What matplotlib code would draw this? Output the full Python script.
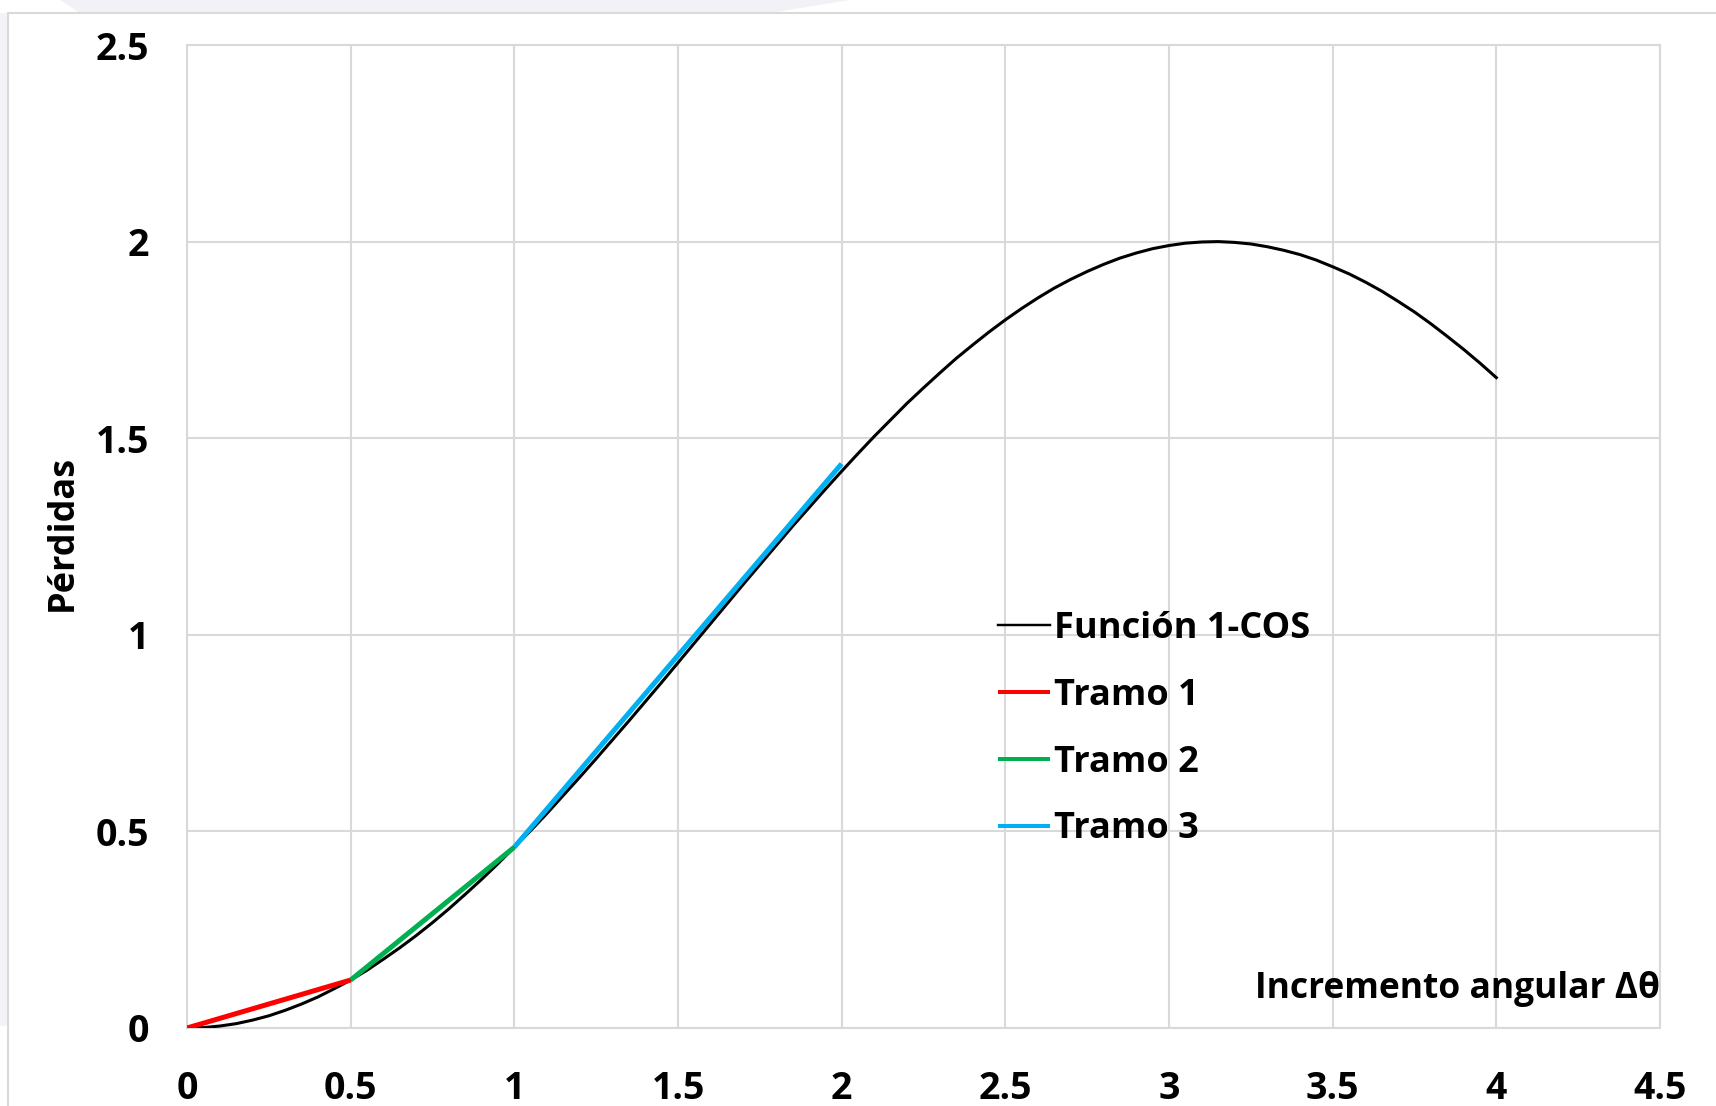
import matplotlib
matplotlib.use("Agg")
import matplotlib.pyplot as plt
from matplotlib.patches import Rectangle, Polygon

# Loss curve 1 - cos(Δθ), sampled every 0.05 rad
theta = [0.00, 0.05, 0.10, 0.15, 0.20, 0.25, 0.30, 0.35, 0.40, 0.45,
         0.50, 0.55, 0.60, 0.65, 0.70, 0.75, 0.80, 0.85, 0.90, 0.95,
         1.00, 1.05, 1.10, 1.15, 1.20, 1.25, 1.30, 1.35, 1.40, 1.45,
         1.50, 1.55, 1.60, 1.65, 1.70, 1.75, 1.80, 1.85, 1.90, 1.95,
         2.00, 2.05, 2.10, 2.15, 2.20, 2.25, 2.30, 2.35, 2.40, 2.45,
         2.50, 2.55, 2.60, 2.65, 2.70, 2.75, 2.80, 2.85, 2.90, 2.95,
         3.00, 3.05, 3.10, 3.15, 3.20, 3.25, 3.30, 3.35, 3.40, 3.45,
         3.50, 3.55, 3.60, 3.65, 3.70, 3.75, 3.80, 3.85, 3.90, 3.95, 4.00]
perdidas = [0.000, 0.001, 0.005, 0.011, 0.020, 0.031, 0.045, 0.061, 0.079, 0.100,
            0.122, 0.147, 0.175, 0.204, 0.235, 0.268, 0.303, 0.340, 0.378, 0.418,
            0.460, 0.502, 0.546, 0.592, 0.638, 0.685, 0.733, 0.781, 0.830, 0.879,
            0.929, 0.979, 1.029, 1.079, 1.129, 1.178, 1.227, 1.276, 1.323, 1.370,
            1.416, 1.461, 1.505, 1.547, 1.589, 1.628, 1.666, 1.703, 1.737, 1.770,
            1.801, 1.830, 1.857, 1.882, 1.904, 1.924, 1.942, 1.958, 1.971, 1.982,
            1.990, 1.996, 1.999, 2.000, 1.998, 1.994, 1.987, 1.978, 1.967, 1.953,
            1.936, 1.918, 1.897, 1.874, 1.848, 1.821, 1.791, 1.759, 1.726, 1.691, 1.654]

# Linear segments
tramo1_x = [0.0, 0.5]
tramo1_y = [0.000, 0.122]
tramo2_x = [0.5, 1.0]
tramo2_y = [0.122, 0.460]
tramo3_x = [1.0, 2.0]
tramo3_y = [0.460, 1.435]

x_ticks = [0, 0.5, 1, 1.5, 2, 2.5, 3, 3.5, 4, 4.5]
x_tick_labels = ["0", "0.5", "1", "1.5", "2", "2.5", "3", "3.5", "4", "4.5"]
y_ticks = [0, 0.5, 1, 1.5, 2, 2.5]
y_tick_labels = ["0", "0.5", "1", "1.5", "2", "2.5"]

FONT = ["Open Sans", "DejaVu Sans"]
plt.rcParams["font.family"] = FONT
plt.rcParams["font.weight"] = "bold"

W, H = 1716, 1106
fig = plt.figure(figsize=(W / 100, H / 100), dpi=100)
fig.patch.set_facecolor("white")

# faint decorative background band and outer chart frame
fig.add_artist(Polygon([(60 / W, 1), (850 / W, 1), (770 / W, 1 - 13 / H), (80 / W, 1 - 13 / H)],
                       closed=True, transform=fig.transFigure, facecolor="#f1f1f6",
                       edgecolor="none", zorder=0))
fig.add_artist(Rectangle((0, 80 / H), 8 / W, 1 - 80 / H - 13 / H, transform=fig.transFigure,
                         facecolor="#f4f4f8", edgecolor="none", zorder=0))
fig.add_artist(Rectangle((8 / W, -0.05), 1.0, 1.05 - 13 / H, transform=fig.transFigure,
                         facecolor="white", edgecolor="#d9d9d9", linewidth=1.5, zorder=0))

left, right, top, bottom = 187, 1660, 45, 1028
ax = fig.add_axes([left / W, 1 - bottom / H, (right - left) / W, (bottom - top) / H])
ax.set_facecolor("none")

ax.plot(theta, perdidas, color="black", lw=2.2, label="Función 1-COS", zorder=3)
ax.plot(tramo1_x, tramo1_y, color="#ff0000", lw=3.6, label="Tramo 1", zorder=4,
        solid_capstyle="butt")
ax.plot(tramo2_x, tramo2_y, color="#00b050", lw=3.6, label="Tramo 2", zorder=4,
        solid_capstyle="butt")
ax.plot(tramo3_x, tramo3_y, color="#00b0f0", lw=3.6, label="Tramo 3", zorder=4,
        solid_capstyle="butt")

ax.set_xlim(0, 4.5)
ax.set_ylim(0, 2.5)
ax.set_xticks(x_ticks)
ax.set_xticklabels(x_tick_labels)
ax.set_yticks(y_ticks)
ax.set_yticklabels(y_tick_labels)
ax.tick_params(axis="both", length=0, labelsize=27)
ax.tick_params(axis="y", pad=27)
ax.tick_params(axis="x", pad=30)
for lab in ax.get_xticklabels() + ax.get_yticklabels():
    lab.set_fontweight("bold")

ax.grid(True, color="#d9d9d9", lw=1.5, zorder=0)
ax.set_axisbelow(True)
for s in ax.spines.values():
    s.set_color("#d9d9d9")
    s.set_linewidth(1.5)

ax.set_ylabel("Pérdidas", fontsize=26, fontweight="bold")
ax.yaxis.set_label_coords(-(left - 81) / (right - left), 0.504)

ax.text(4.5, 0.10, "Incremento angular Δθ", ha="right", va="center", fontsize=25.5,
        fontweight="bold", family=FONT, zorder=5)

leg = ax.legend(loc="center left", bbox_to_anchor=(0.5506, 0.304), frameon=False,
                handlelength=1.45, handletextpad=0.1, labelspacing=0.85,
                borderpad=0, borderaxespad=0, prop={"weight": "bold", "size": 26})
for h in leg.get_lines():
    h.set_linewidth(h.get_linewidth() * 0.8)

fig.savefig("out.png", dpi=100)
